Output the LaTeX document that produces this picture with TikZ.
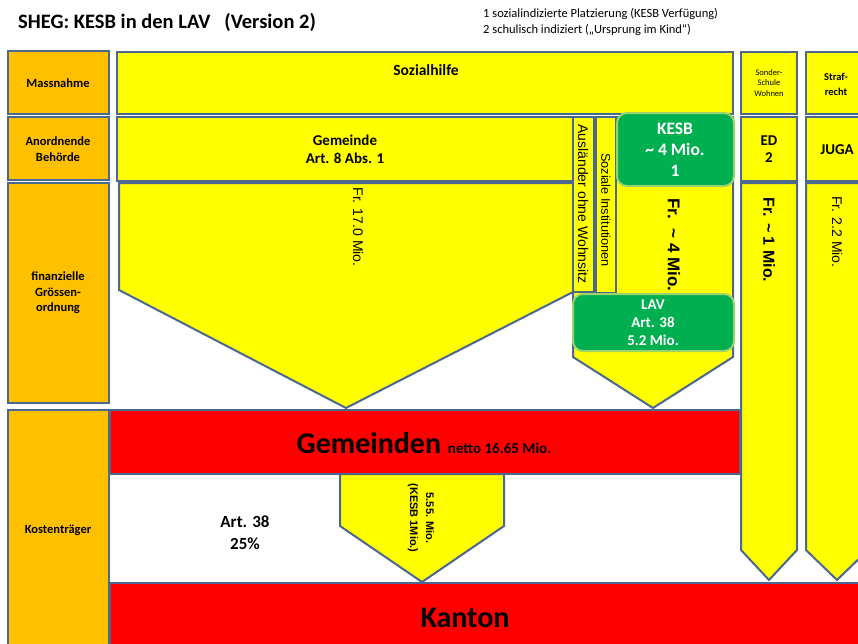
\documentclass[tikz,border=0pt]{standalone}
\usepackage{fontspec}
\setmainfont{Carlito}
\newfontfamily\arialfont{Liberation Sans}
\definecolor{rand}{HTML}{4A6890}
\definecolor{kopf}{HTML}{FFC000}
\definecolor{gelb}{HTML}{FFFF00}
\definecolor{rot}{HTML}{FF0000}
\definecolor{gruen}{HTML}{00B050}
\definecolor{gruenrand}{HTML}{9CD36B}
\newcommand{\fs}[2]{\fontsize{#1}{#2}\selectfont}
\begin{document}
\begin{tikzpicture}[x=1pt, y=-1pt,
    feld/.style={draw=rand, line width=2pt},
    kopffeld/.style={feld, fill=kopf},
    gelbfeld/.style={feld, fill=gelb},
    rotfeld/.style={feld, fill=rot},
    gruenfeld/.style={draw=gruenrand, line width=2pt, fill=gruen, rounded corners=10pt},
    txt/.style={align=center, inner sep=0pt, font=\bfseries\fs{12.5}{15.5}},
    dreh/.style={inner sep=0pt, rotate=-90, font=\arialfont\fs{14}{16}}]
            \clip (0,0) rectangle (858,643);
            \fill[white] (0,0) rectangle (858,643);

            % Kopfspalte
            \filldraw[kopffeld] (8,51) rectangle (109,114);
            \filldraw[kopffeld] (8,117) rectangle (109,180);
            \filldraw[kopffeld] (8,183) rectangle (109,403);
            \filldraw[kopffeld] (8,410) rectangle (109,660);

            % Sozialhilfe
            \filldraw[gelbfeld] (117,52) rectangle (733,114);
            \filldraw[gelbfeld] (117,117) rectangle (573,181);
            \filldraw[gelbfeld] (119,183) -- (573,183) -- (573,292) -- (346,408) -- (119,290) -- cycle;
            \filldraw[gelbfeld] (573,117) -- (733,117) -- (733,357) -- (653,408) -- (573,357) -- cycle;
            \filldraw[gelbfeld] (573,117) rectangle (594,292);
            \filldraw[gelbfeld] (596,117) rectangle (616,293);
            \filldraw[gruenfeld] (617,113) rectangle (734,186);
            \filldraw[gruenfeld] (573,294) rectangle (734,351);

            % Sonderschule und Strafrecht
            \filldraw[gelbfeld] (741,52) rectangle (797,114);
            \filldraw[gelbfeld] (741,117) rectangle (797,181);
            \filldraw[gelbfeld] (741,183) -- (797,183) -- (797,550) -- (769,580) -- (741,550) -- cycle;
            \filldraw[gelbfeld] (806,52) rectangle (868,114);
            \filldraw[gelbfeld] (806,117) rectangle (868,181);
            \filldraw[gelbfeld] (806,183) -- (868,183) -- (868,550) -- (837,580) -- (806,550) -- cycle;

            % Kostentraeger
            \filldraw[rotfeld] (110,410) rectangle (740,474);
            \filldraw[gelbfeld] (340,474) -- (504,474) -- (504,526) -- (422,582) -- (340,526) -- cycle;
            \filldraw[rotfeld] (110,583) rectangle (870,660);

            % Texte
            \node[anchor=west, inner sep=0pt, font=\bfseries\fs{20.5}{24}] (titel) at (18,22) {SHEG: KESB in den LAV\ \ \ (Version 2)};
            \node[anchor=west, inner sep=0pt, align=left, font=\fs{12.5}{16}] (fussnoten) at (483,22)
                {1 sozialindizierte Platzierung (KESB Verfügung)\\2 schulisch indiziert („Ursprung im Kind“)};

            \node[txt] (massnahme) at (58,83) {Massnahme};
            \node[txt] (behoerde) at (58,149) {Anordnende\\Behörde};
            \node[txt] (groesse) at (58,293) {finanzielle\\Grössen-\\ordnung};
            \node[txt] (traeger) at (58,530) {Kostenträger};

            \node[txt, font=\bfseries\fs{15.5}{18}] (sozialhilfe) at (426,70) {Sozialhilfe};
            \node[txt, font=\bfseries\fs{15}{18}] (gemeinde) at (345,149) {Gemeinde\\Art. 8 Abs. 1};
            \node[dreh] (frgemeinde) at (358,227) {Fr. 17.0 Mio.};
            \node[dreh, font=\arialfont\fs{14}{16}] (auslaender) at (583,204) {Ausländer ohne Wohnsitz};
            \node[dreh, font=\arialfont\fs{12.7}{15}] (institutionen) at (606,210) {Soziale Institutionen};
            \node[txt, text=white, font=\bfseries\fs{17.5}{21}] (kesb) at (675,150) {KESB\\\textasciitilde\ 4 Mio.\\1};
            \node[dreh, font=\arialfont\bfseries\fs{17}{20}] (frkesb) at (674,245) {Fr.\ \ \textasciitilde\ 4 Mio.};
            \node[txt, text=white, font=\bfseries\fs{15}{18}] (lav) at (653,323) {LAV\\Art. 38\\5.2 Mio.};

            \node[txt, font=\fs{8.5}{10.5}] (sonder) at (769,83) {Sonder-\\Schule\\Wohnen};
            \node[txt, font=\bfseries\fs{10.5}{15}] (straf) at (836,84) {Straf-\\recht};
            \node[txt, font=\bfseries\fs{15}{17.5}] (ed) at (769,149) {ED\\2};
            \node[txt, font=\bfseries\fs{15}{17.5}] (juga) at (837,150) {JUGA};
            \node[dreh, font=\arialfont\bfseries\fs{16}{18}] (fred) at (769,240) {Fr. \textasciitilde\ 1 Mio.};
            \node[dreh] (frjuga) at (837,232) {Fr. 2.2 Mio.};

            \node[inner sep=0pt, font=\bfseries] (gemeinden) at (424,443)
                {\fs{30}{34}Gemeinden \fs{15}{18}netto 16.65 Mio.};
            \node[txt, font=\bfseries\fs{17}{22}] (art) at (245,533) {Art. 38\\25\%};
            \node[dreh, align=center, font=\arialfont\bfseries\fs{11}{16}] (anteil) at (421,518) {5.55. Mio.\\(KESB 1Mio.)};
            \node[txt, font=\bfseries\fs{30}{34}] (kanton) at (465,618) {Kanton};
        \end{tikzpicture}
\end{document}
